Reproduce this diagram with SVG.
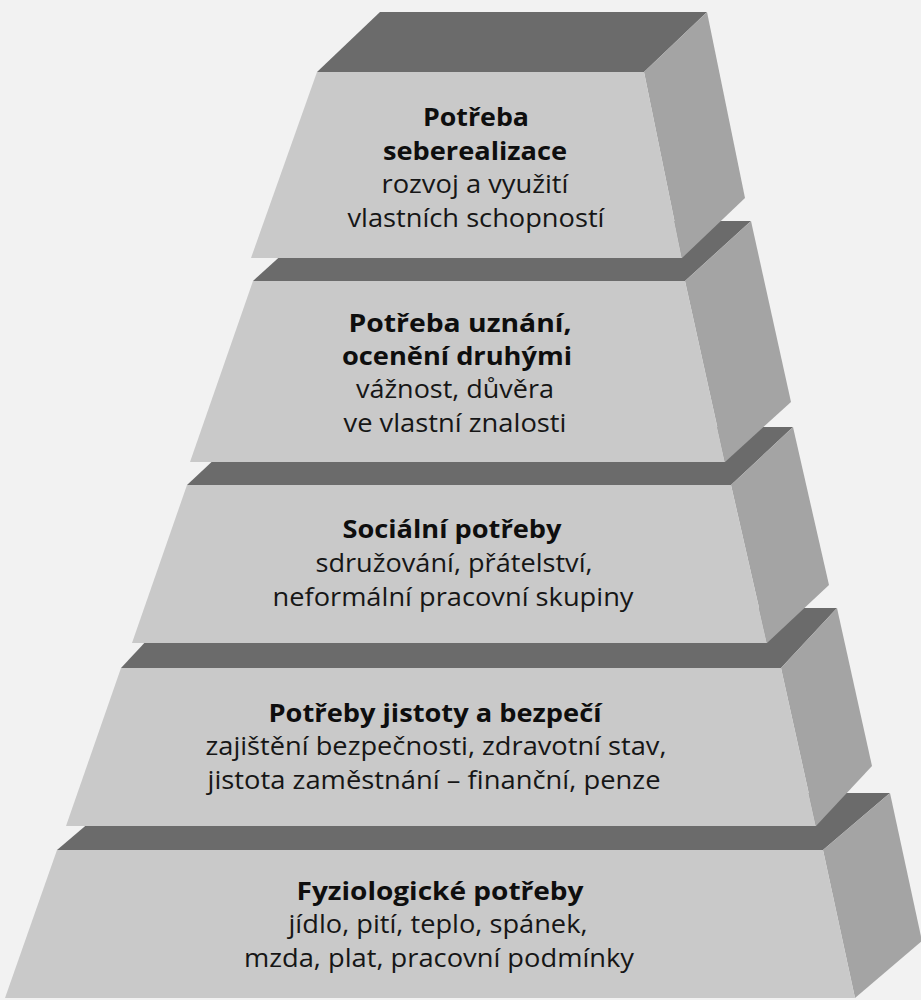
<svg xmlns="http://www.w3.org/2000/svg" width="921" height="1000" viewBox="0 0 921 1000">
<style>
.bg{fill:#f2f2f2}
.top{fill:#6b6b6b}
.side{fill:#a4a4a4}
.front{fill:#c9c9c9}
text{font-family:"Open Sans","Noto Sans","Liberation Sans",sans-serif;font-size:25px;text-anchor:middle;fill:#161616}
.b{font-weight:700;fill:#0e0e0e}
</style>
<rect class="bg" x="0" y="0" width="921" height="1000"/>
<g id="level5">
<polygon class="top" points="57,850 823,850 890,793 124,793"/>
<polygon class="side" points="823,850 890,793 922,941 855,998"/>
<polygon class="front" points="57,850 823,850 855,998 5,998"/>
<text class="b" x="440" y="900" textLength="287" lengthAdjust="spacingAndGlyphs">Fyziologické potřeby</text>
<text x="438" y="933" textLength="299" lengthAdjust="spacingAndGlyphs">jídlo, pití, teplo, spánek,</text>
<text x="439" y="967" textLength="390" lengthAdjust="spacingAndGlyphs">mzda, plat, pracovní podmínky</text>
</g>
<g id="level4">
<polygon class="top" points="121,668 781,668 837,608 177,608"/>
<polygon class="side" points="781,668 837,608 872,766 816,826"/>
<polygon class="front" points="121,668 781,668 816,826 66,826"/>
<text class="b" x="435" y="722" textLength="333" lengthAdjust="spacingAndGlyphs">Potřeby jistoty a bezpečí</text>
<text x="436" y="755" textLength="461" lengthAdjust="spacingAndGlyphs">zajištění bezpečnosti, zdravotní stav,</text>
<text x="434" y="789" textLength="453" lengthAdjust="spacingAndGlyphs">jistota zaměstnání – finanční, penze</text>
</g>
<g id="level3">
<polygon class="top" points="187,485 731,485 793,427 249,427"/>
<polygon class="side" points="731,485 793,427 829,585 767,643"/>
<polygon class="front" points="187,485 731,485 767,643 132,643"/>
<text class="b" x="452" y="538" textLength="219" lengthAdjust="spacingAndGlyphs">Sociální potřeby</text>
<text x="454" y="572" textLength="277" lengthAdjust="spacingAndGlyphs">sdružování, přátelství,</text>
<text x="453" y="606" textLength="361" lengthAdjust="spacingAndGlyphs">neformální pracovní skupiny</text>
</g>
<g id="level2">
<polygon class="top" points="253,281 685,281 751,221 319,221"/>
<polygon class="side" points="685,281 751,221 791,402 725,462"/>
<polygon class="front" points="253,281 685,281 725,462 190,462"/>
<text class="b" x="460" y="332" textLength="223" lengthAdjust="spacingAndGlyphs">Potřeba uznání,</text>
<text class="b" x="457" y="365" textLength="230" lengthAdjust="spacingAndGlyphs">ocenění druhými</text>
<text x="455" y="398" textLength="198" lengthAdjust="spacingAndGlyphs">vážnost, důvěra</text>
<text x="455" y="432" textLength="223" lengthAdjust="spacingAndGlyphs">ve vlastní znalosti</text>
</g>
<g id="level1">
<polygon class="top" points="317,72 644,72 707,12 380,12"/>
<polygon class="side" points="644,72 707,12 745,198 682,258"/>
<polygon class="front" points="317,72 644,72 682,258 251,258"/>
<text class="b" x="476" y="126" textLength="106" lengthAdjust="spacingAndGlyphs">Potřeba</text>
<text class="b" x="475" y="160" textLength="184" lengthAdjust="spacingAndGlyphs">seberealizace</text>
<text x="475" y="193" textLength="187" lengthAdjust="spacingAndGlyphs">rozvoj a využití</text>
<text x="476" y="227" textLength="257" lengthAdjust="spacingAndGlyphs">vlastních schopností</text>
</g>
<g id="connectors"/>
</svg>
